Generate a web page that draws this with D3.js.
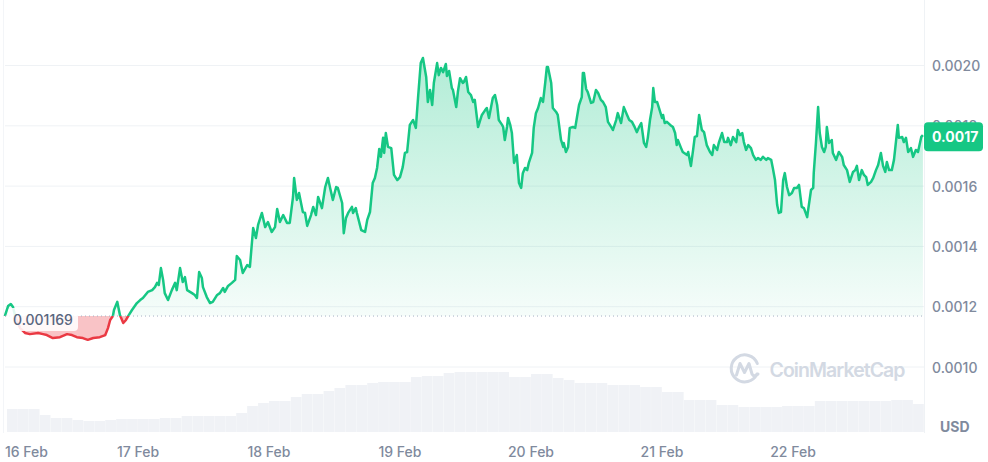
<!DOCTYPE html>
<meta charset="utf-8">
<style>
    html,
    body {
        margin: 0;
        padding: 0;
        background: #fff;
    }

    svg {
        display: block;
        font-family: Inter, "Noto Sans", sans-serif;
    }
</style>
<svg id="chart" width="988" height="462"></svg>
<script src="https://cdn.jsdelivr.net/npm/d3@7"></script>
<script>
    // price points: [hours after 16 Feb 00:00, price in millionths of USD]
    const pricePoints = [
        [-0.4, 1169], [0.2, 1202], [0.7, 1209], [1.1, 1199], [1.6, 1162], [2.4, 1129], [3.3, 1113], [4.2, 1109],
        [5.7, 1113], [6.6, 1109], [7.3, 1106], [8.4, 1096], [9.7, 1099], [11.0, 1109], [11.9, 1106], [12.8, 1099],
        [13.9, 1096], [14.8, 1090], [15.8, 1096], [17.0, 1099], [18.0, 1106], [18.5, 1129], [18.9, 1156], [19.4, 1169],
        [19.6, 1189], [20.2, 1216], [20.7, 1172], [21.3, 1146], [21.8, 1156], [22.2, 1169], [22.9, 1189], [23.8, 1212],
        [24.4, 1222], [24.9, 1229], [25.8, 1249], [26.6, 1255], [27.1, 1265], [27.5, 1279], [27.8, 1272], [28.2, 1328],
        [28.6, 1289], [28.9, 1245], [29.5, 1222], [30.2, 1255], [30.8, 1279], [31.1, 1255], [31.7, 1328], [32.2, 1282],
        [32.6, 1298], [33.0, 1255], [33.9, 1245], [34.4, 1239], [34.8, 1229], [35.2, 1315], [35.7, 1295], [35.9, 1265],
        [36.6, 1232], [37.2, 1212], [37.7, 1216], [38.5, 1239], [39.0, 1245], [39.6, 1262], [39.9, 1249], [40.5, 1269],
        [41.2, 1279], [41.8, 1289], [42.1, 1368], [42.7, 1355], [43.2, 1312], [44.0, 1338], [44.5, 1332], [45.1, 1461],
        [45.6, 1428], [46.0, 1471], [46.7, 1511], [47.3, 1464], [47.8, 1481], [48.5, 1448], [49.1, 1464], [49.5, 1524],
        [50.0, 1481], [50.6, 1504], [51.3, 1478], [51.8, 1478], [52.4, 1564], [52.6, 1627], [53.1, 1554], [53.5, 1577],
        [54.2, 1514], [54.6, 1511], [55.0, 1468], [55.7, 1504], [56.1, 1531], [56.6, 1504], [57.0, 1564], [57.7, 1527],
        [58.3, 1597], [58.8, 1627], [59.2, 1594], [59.7, 1554], [60.3, 1597], [60.6, 1594], [61.4, 1544], [61.7, 1444],
        [62.1, 1494], [62.5, 1511], [63.2, 1531], [63.4, 1511], [63.9, 1527], [64.1, 1511], [64.9, 1454], [65.6, 1448],
        [66.0, 1488], [66.5, 1514], [67.0, 1610], [67.4, 1627], [67.8, 1660], [68.2, 1723], [68.5, 1697], [68.9, 1760],
        [69.1, 1710], [69.4, 1776], [69.8, 1730], [70.4, 1726], [70.9, 1637], [71.5, 1620], [72.0, 1630], [72.5, 1663],
        [72.9, 1710], [73.3, 1713], [73.8, 1803], [74.4, 1819], [74.9, 1793], [75.3, 1892], [75.8, 2008], [76.2, 2025],
        [76.8, 1962], [77.1, 1879], [77.5, 1919], [77.9, 1869], [78.2, 1942], [78.8, 2008], [79.1, 1968], [79.5, 1992],
        [79.9, 1978], [80.4, 2005], [80.6, 1965], [81.0, 1982], [81.5, 1925], [81.7, 1919], [82.3, 1862], [82.6, 1912],
        [83.0, 1958], [83.5, 1942], [83.7, 1945], [84.1, 1962], [84.5, 1912], [85.0, 1902], [85.4, 1879], [85.7, 1886],
        [86.3, 1796], [87.0, 1836], [87.6, 1852], [87.9, 1859], [88.3, 1826], [89.0, 1892], [89.4, 1902], [89.8, 1869],
        [90.1, 1819], [90.7, 1803], [90.9, 1796], [91.2, 1753], [91.6, 1796], [91.8, 1826], [92.2, 1803], [92.5, 1776],
        [92.9, 1677], [93.4, 1703], [93.8, 1610], [94.2, 1594], [94.5, 1643], [94.9, 1660], [95.3, 1653], [95.6, 1677],
        [96.2, 1710], [96.5, 1793], [96.9, 1842], [97.3, 1859], [97.8, 1892], [98.2, 1879], [98.6, 1942], [98.9, 1995],
        [99.1, 1995], [99.7, 1942], [100.0, 1859], [100.6, 1846], [100.9, 1836], [101.5, 1753], [101.9, 1730], [102.0, 1743],
        [102.4, 1713], [102.8, 1730], [103.1, 1793], [103.7, 1796], [104.1, 1793], [104.4, 1826], [104.8, 1869], [105.3, 1895],
        [105.5, 1975], [105.7, 1975], [106.1, 1922], [106.4, 1912], [107.0, 1876], [107.4, 1879], [107.9, 1919], [108.3, 1909],
        [108.8, 1886], [109.2, 1879], [109.7, 1862], [110.1, 1813], [110.8, 1793], [111.0, 1786], [111.6, 1819], [111.9, 1842],
        [112.5, 1809], [113.0, 1862], [113.6, 1836], [114.0, 1819], [114.5, 1813], [114.9, 1799], [115.4, 1779], [115.8, 1796],
        [116.2, 1809], [116.7, 1743], [117.1, 1730], [117.4, 1760], [117.8, 1819], [118.2, 1862], [118.4, 1925], [118.7, 1879],
        [119.1, 1879], [119.4, 1862], [120.0, 1826], [120.2, 1836], [120.5, 1809], [120.9, 1813], [121.5, 1803], [122.0, 1796],
        [122.4, 1776], [122.7, 1736], [122.9, 1753], [123.5, 1726], [123.8, 1713], [124.6, 1703], [124.8, 1713], [125.3, 1667],
        [125.7, 1720], [126.0, 1763], [126.4, 1766], [126.8, 1836], [127.3, 1786], [127.7, 1779], [128.2, 1736], [128.8, 1713],
        [129.2, 1703], [129.5, 1736], [130.1, 1720], [130.4, 1743], [131.0, 1776], [131.4, 1746], [131.9, 1746], [132.1, 1760],
        [132.6, 1736], [133.0, 1763], [133.6, 1746], [133.9, 1786], [134.3, 1769], [134.7, 1776], [135.0, 1746], [135.4, 1720],
        [135.8, 1736], [136.3, 1726], [136.7, 1703], [137.2, 1687], [137.6, 1693], [138.1, 1687], [138.5, 1697], [139.1, 1687],
        [139.4, 1693], [140.0, 1687], [140.3, 1660], [140.7, 1620], [141.1, 1537], [141.4, 1511], [141.8, 1514], [142.2, 1620],
        [142.5, 1643], [142.9, 1597], [143.3, 1570], [143.8, 1577], [144.2, 1594], [144.7, 1594], [145.1, 1604], [145.6, 1531],
        [146.0, 1527], [146.6, 1497], [146.7, 1511], [147.3, 1587], [147.7, 1594], [147.8, 1643], [148.2, 1743], [148.6, 1862],
        [148.9, 1776], [149.3, 1730], [149.7, 1713], [150.0, 1730], [150.2, 1796], [150.6, 1743], [151.1, 1753], [151.3, 1710],
        [151.9, 1687], [152.4, 1713], [153.0, 1697], [153.3, 1670], [153.9, 1653], [154.4, 1614], [155.0, 1647], [155.4, 1653],
        [155.7, 1667], [156.1, 1620], [156.6, 1653], [157.0, 1637], [157.4, 1630], [157.7, 1604], [158.3, 1614], [158.7, 1627],
        [159.2, 1653], [159.6, 1670], [160.1, 1710], [160.5, 1667], [160.9, 1647], [161.2, 1680], [161.6, 1653], [162.1, 1653],
        [162.5, 1687], [162.9, 1753], [163.2, 1803], [163.4, 1760], [164.0, 1763], [164.3, 1746], [164.7, 1760], [165.1, 1713],
        [165.6, 1726], [166.0, 1697], [166.5, 1720], [166.9, 1713], [167.5, 1763], [167.8, 1769]
    ];

    // 2-hour volume buckets (thousand USD), starting 16 Feb 00:00
    const volumes = [
        46, 46, 46, 34, 28, 28, 24, 22, 22, 24,
        26, 26, 26, 26, 28, 28, 32, 32, 32, 32,
        32, 38, 52, 58, 62, 62, 70, 76, 76, 82,
        88, 94, 94, 98, 100, 100, 100, 110, 112, 112,
        118, 120, 120, 120, 120, 120, 110, 110, 116, 116,
        108, 104, 98, 98, 98, 94, 94, 94, 90, 90,
        80, 80, 64, 64, 64, 54, 54, 50, 50, 50,
        50, 52, 52, 52, 62, 62, 62, 62, 62, 62,
        62, 64, 64, 56
    ];

    const openPrice = 0.001169;
    const lastPriceText = "0.0017";
    const yTicks = [0.0010, 0.0012, 0.0014, 0.0016, 0.0018, 0.0020];
    const dayLabels = ["16 Feb", "17 Feb", "18 Feb", "19 Feb", "20 Feb", "21 Feb", "22 Feb"];

    const GREEN = "#16c784",
        RED = "#ea3943",
        GRID = "#eff2f5",
        LABEL = "#808a9d";

    var svg = d3.select("#chart");
    var t0 = new Date(2024, 1, 16);
    var hour = 3600 * 1000;

    var data = pricePoints.map(function(p) {
        return { date: new Date(+t0 + p[0] * hour), price: p[1] / 1e6 };
    });

    var x = d3.scaleTime()
        .domain([d3.timeMinute.offset(t0, -22), d3.timeDay.offset(t0, 7)])
        .range([5, 924]);
    var y = d3.scaleLinear().domain([0.0010, 0.0020]).range([367, 65.5]);
    var yVol = d3.scaleLinear().domain([0, 120]).range([432, 372]);
    var yBase = y(openPrice);

    var defs = svg.append("defs");
    var grad = defs.append("linearGradient")
        .attr("id", "greenFill")
        .attr("gradientUnits", "userSpaceOnUse")
        .attr("x1", 0).attr("x2", 0)
        .attr("y1", y(0.00205)).attr("y2", yBase);
    grad.append("stop").attr("offset", 0).attr("stop-color", GREEN).attr("stop-opacity", 0.34);
    grad.append("stop").attr("offset", 1).attr("stop-color", GREEN).attr("stop-opacity", 0.04);

    defs.append("clipPath").attr("id", "above")
        .append("rect").attr("x", 0).attr("y", 0).attr("width", 924).attr("height", yBase);
    defs.append("clipPath").attr("id", "below")
        .append("rect").attr("x", 0).attr("y", yBase).attr("width", 924).attr("height", 462 - yBase);

    // grid
    svg.append("g").selectAll("line")
        .data(yTicks)
        .enter().append("line")
        .attr("x1", 5).attr("x2", 924)
        .attr("y1", d => y(d)).attr("y2", d => y(d))
        .attr("stroke", GRID).attr("stroke-width", 1);

    svg.append("line")
        .attr("x1", 924.5).attr("x2", 924.5).attr("y1", 0).attr("y2", 433)
        .attr("stroke", GRID);
    svg.append("line")
        .attr("x1", 3.5).attr("x2", 3.5).attr("y1", 0).attr("y2", 433)
        .attr("stroke", "#f3f5f8");

    // volume
    svg.append("g").selectAll("rect")
        .data(volumes)
        .enter().append("rect")
        .attr("x", (d, i) => x(new Date(+t0 + i * 2 * hour)))
        .attr("width", (d, i) => x(new Date(+t0 + (i + 1) * 2 * hour)) - x(new Date(+t0 + i * 2 * hour)) - 0.2)
        .attr("y", d => yVol(d))
        .attr("height", d => yVol(0) - yVol(d))
        .attr("fill", "#f0f2f6");

    // watermark
    var wm = svg.append("g").attr("transform", "translate(744.5,369)")
        .attr("fill", "none").attr("stroke", "#d3d9e3").attr("stroke-width", 3)
        .attr("stroke-linecap", "round").attr("stroke-linejoin", "round");
    wm.append("path").attr("d", "M 12.5 5 A 13.5 13.5 0 1 1 12.8 -5.5");
    wm.append("path").attr("d", "M -8 6 L -4.5 -5.5 L 0 3.5 L 4.5 -5.5 L 7.5 5 Q 9.5 8.5 13.5 5");
    svg.append("text")
        .attr("x", 769.5).attr("y", 377)
        .attr("font-size", 19.5).attr("font-weight", 600)
        .attr("fill", "#d3d9e3")
        .attr("textLength", 136)
        .text("CoinMarketCap");

    // area + line
    var area = d3.area()
        .x(d => x(d.date))
        .y0(yBase)
        .y1(d => y(d.price));
    var line = d3.line()
        .x(d => x(d.date))
        .y(d => y(d.price));

    svg.append("path").datum(data)
        .attr("clip-path", "url(#above)")
        .attr("d", area)
        .attr("fill", "url(#greenFill)");
    svg.append("path").datum(data)
        .attr("clip-path", "url(#below)")
        .attr("d", area)
        .attr("fill", RED).attr("fill-opacity", 0.3);

    svg.append("path").datum(data)
        .attr("clip-path", "url(#above)")
        .attr("d", line)
        .attr("fill", "none").attr("stroke", GREEN).attr("stroke-width", 2.5)
        .attr("stroke-linejoin", "round");
    svg.append("path").datum(data)
        .attr("clip-path", "url(#below)")
        .attr("d", line)
        .attr("fill", "none").attr("stroke", RED).attr("stroke-width", 2.5)
        .attr("stroke-linejoin", "round");

    // open price dotted line + label
    svg.append("line")
        .attr("x1", 5).attr("x2", 924)
        .attr("y1", yBase).attr("y2", yBase)
        .attr("stroke", "#a6b0c3").attr("stroke-width", 1)
        .attr("stroke-dasharray", "1 3");

    svg.append("rect")
        .attr("x", 8).attr("y", yBase - 8).attr("width", 70).attr("height", 23).attr("rx", 4)
        .attr("fill", "#fff").attr("fill-opacity", 0.88);
    svg.append("text")
        .attr("x", 13).attr("y", yBase + 3.5)
        .attr("dominant-baseline", "central")
        .attr("font-size", 14).attr("font-weight", 500)
        .attr("fill", "#58667e")
        .text(openPrice.toString());

    // y axis labels
    svg.append("g").selectAll("text")
        .data(yTicks)
        .enter().append("text")
        .attr("x", 932)
        .attr("y", d => y(d))
        .attr("dominant-baseline", "central")
        .attr("font-size", 14).attr("font-weight", 500)
        .attr("fill", LABEL)
        .text(d => d3.format(".4f")(d));

    svg.append("text")
        .attr("x", 940).attr("y", 432)
        .attr("font-size", 14).attr("font-weight", 700)
        .attr("fill", LABEL)
        .text("USD");

    // last price tag
    var last = data[data.length - 1];
    var ly = y(last.price) + 1.5;
    svg.append("rect")
        .attr("x", 924).attr("y", ly - 14.5).attr("width", 59).attr("height", 29).attr("rx", 4)
        .attr("fill", GREEN);
    svg.append("text")
        .attr("x", 932).attr("y", ly)
        .attr("dominant-baseline", "central")
        .attr("font-size", 14).attr("font-weight", 700)
        .attr("fill", "#fff")
        .text(lastPriceText);

    // x axis labels
    svg.append("g").selectAll("text")
        .data(dayLabels)
        .enter().append("text")
        .attr("y", 457)
        .attr("font-size", 14).attr("font-weight", 500)
        .attr("fill", LABEL)
        .text(d => d)
        .each(function(d, i) {
            var cx = x(d3.timeDay.offset(t0, i));
            var w = this.getComputedTextLength();
            var left = Math.max(5, cx - w / 2);
            d3.select(this).attr("x", left);
        });
</script>
